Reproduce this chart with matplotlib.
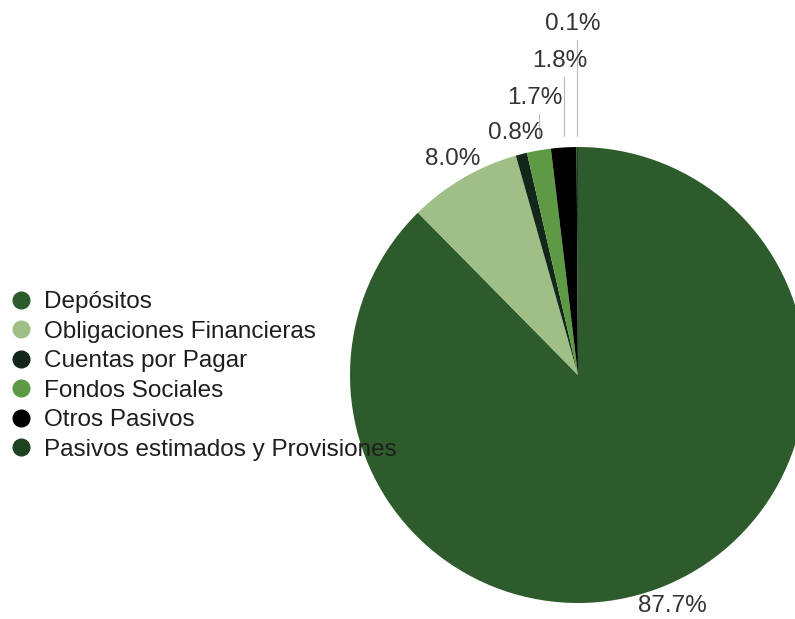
import numpy as np
import matplotlib
matplotlib.use("Agg")
import matplotlib.pyplot as plt
from matplotlib.lines import Line2D

categories = ["Depósitos", "Obligaciones Financieras", "Cuentas por Pagar",
              "Fondos Sociales", "Otros Pasivos", "Pasivos estimados y Provisiones"]
values = [87.7, 8.0, 0.8, 1.7, 1.8, 0.1]
labels = ["87.7%", "8.0%", "0.8%", "1.7%", "1.8%", "0.1%"]
colors = ["#2e5b2b", "#9fbf86", "#13261a", "#5e9a43", "#000000", "#1f4220"]

plt.rcParams['font.family'] = ['Liberation Sans', 'DejaVu Sans']

fig = plt.figure(figsize=(7.95, 6.19), dpi=100)
W, H = 795, 619
cx, cy, R = 578, 375, 228
ax = fig.add_axes([(cx - R) / W, (H - cy - R) / H, 2 * R / W, 2 * R / H])
wedges, _ = ax.pie(values, colors=colors, startangle=90, counterclock=False,
                   wedgeprops=dict(linewidth=0))
ax.set_xlim(-1, 1)
ax.set_ylim(-1, 1)
ax.axis('off')

fs = 17.5
txtc = "#333333"
stack = 0
for i, (w, lab) in enumerate(zip(wedges, labels)):
    mid = np.deg2rad((w.theta1 + w.theta2) / 2)
    x, y = np.cos(mid), np.sin(mid)
    if i <= 2:
        ax.text(1.095 * x, 1.095 * y, lab, ha='center', va='center', fontsize=fs,
                color=txtc, clip_on=False)
    else:
        stack += 1
        ly = 1.05 + 0.163 * stack
        ax.plot([x, x], [1.05, ly - 0.07], color="#bbbbbb", lw=0.8, clip_on=False)
        ax.text(x - 0.018, ly, lab, ha='center', va='center', fontsize=fs,
                color=txtc, clip_on=False)

handles = [Line2D([], [], marker='o', linestyle='none', markersize=12,
                  markerfacecolor=c, markeredgecolor=c) for c in colors]
leg = fig.legend(handles, categories, loc='upper left',
                 bbox_to_anchor=(6 / W, 1 - 291 / H), frameon=False, fontsize=fs,
                 labelspacing=0.31, handletextpad=0.35, handlelength=1.2,
                 borderpad=0, borderaxespad=0)
for t in leg.get_texts():
    t.set_color("#1e1e1e")

fig.savefig("out.png", dpi=100)
